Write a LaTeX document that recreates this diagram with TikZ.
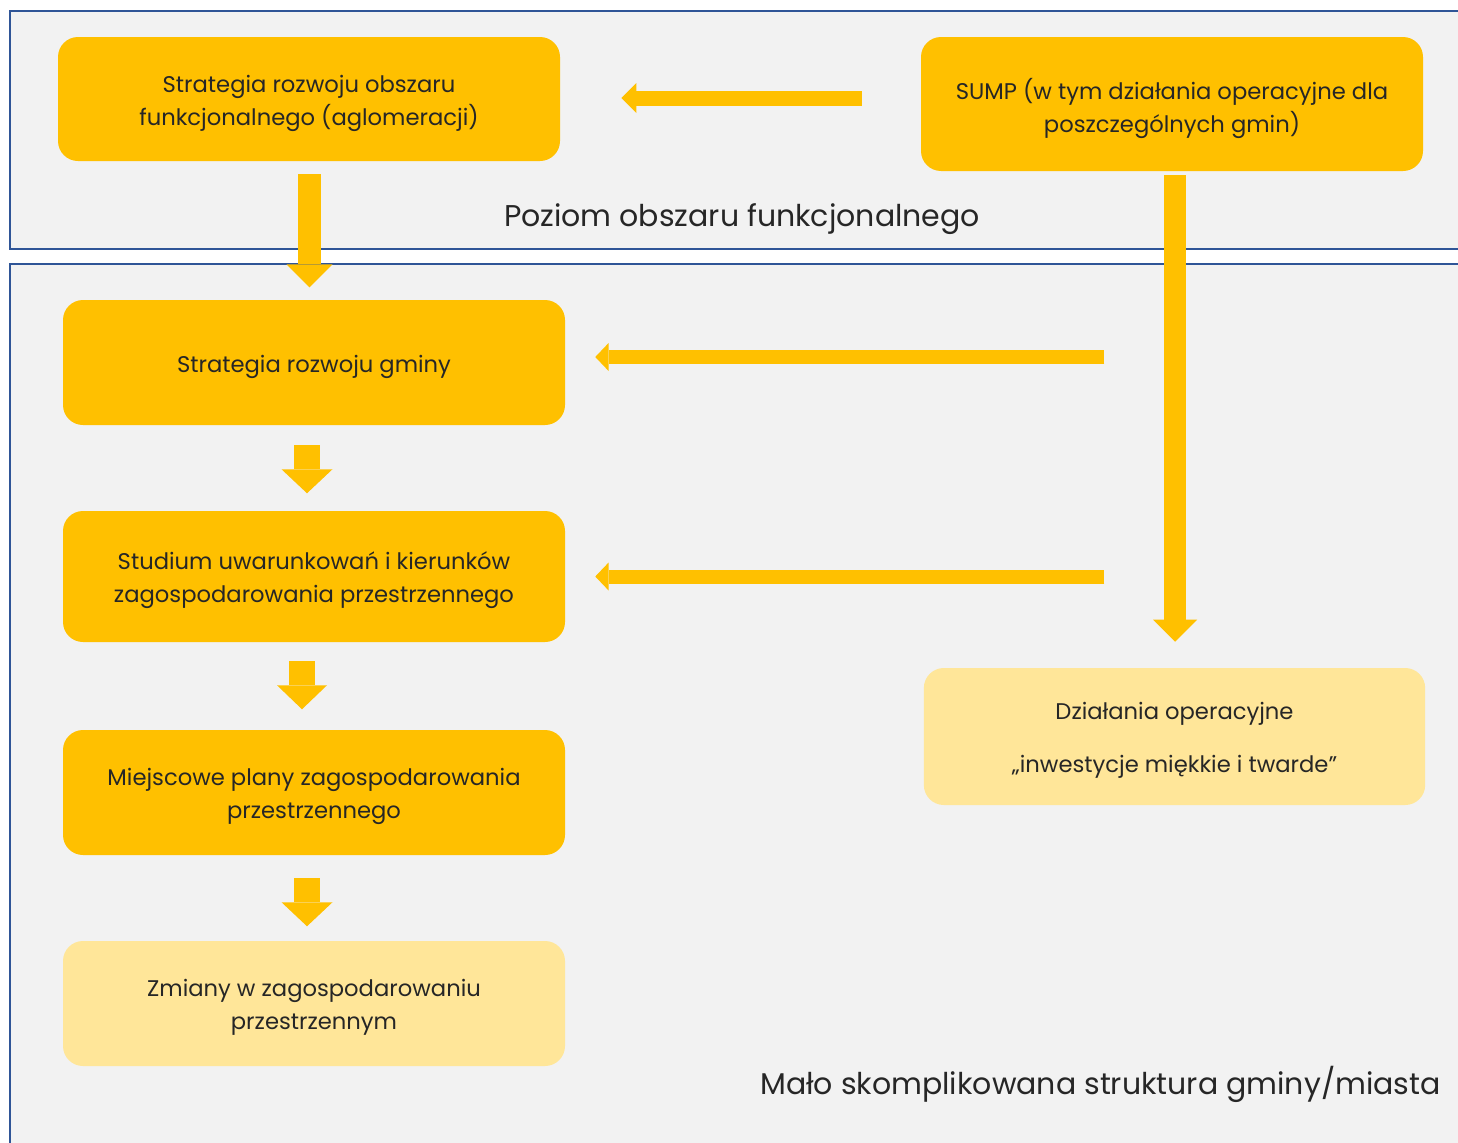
\documentclass[tikz,border=0pt]{standalone}
\usepackage{fontspec}
\setmainfont{Poppins}
\usetikzlibrary{arrows.meta,calc}
\definecolor{frameblue}{RGB}{47,85,151}
\definecolor{framefill}{RGB}{242,242,242}
\definecolor{orangebox}{RGB}{255,192,0}
\definecolor{lightbox}{RGB}{255,230,153}
\newcommand{\boxtext}[1]{\raisebox{-3pt}[\height][\depth]{\parbox{376pt}{\centering #1}}}
\tikzset{
  frame/.style={draw=frameblue, line width=1.6pt, fill=framefill},
  box/.style={fill=orangebox, rounded corners=15pt, minimum width=376.5pt, align=center,
    font=\fontsize{17pt}{24.75pt}\selectfont, text=black!85, inner sep=0pt},
  lbox/.style={box, fill=lightbox},
  biglabel/.style={font=\fontsize{22.5pt}{27pt}\selectfont, text=black!85, inner sep=0pt},
  blk/.style args={#1/#2/#3}{draw=orangebox, line width=#1, line cap=butt,
    -{Triangle[length=#2, width=#3, line width=0pt]}},
}
\begin{document}
\begin{tikzpicture}[x=0.75pt, y=-0.75pt]
\useasboundingbox (0,0) rectangle (1458,1142);
\clip (0,0) rectangle (1458,1142);
% frames
\draw[frame] (10,11) rectangle (1475,249);
\draw[frame] (10,264) rectangle (1475,1160);
% boxes
\node[box, minimum height=93pt] (A) at (309,99) {\boxtext{Strategia rozwoju obszaru\\funkcjonalnego (aglomeracji)}};
\node[box, minimum height=100.5pt] (B) at (1172,104) {\boxtext{SUMP (w tym działania operacyjne dla\\poszczególnych gmin)}};
\node[box, minimum height=93.75pt] (C) at (314,362.5) {\boxtext{Strategia rozwoju gminy}};
\node[box, minimum height=98.25pt] (D) at (314,576.5) {\boxtext{Studium uwarunkowań i kierunków\\zagospodarowania przestrzennego}};
\node[box, minimum height=93.75pt] (E) at (314,792.5) {\boxtext{Miejscowe plany zagospodarowania\\przestrzennego}};
\node[lbox, minimum height=93.75pt] (F) at (314,1003.5) {\boxtext{Zmiany w zagospodarowaniu\\przestrzennym}};
\node[lbox, minimum height=102.75pt, minimum width=375.75pt] (G) at (1174.5,736.5) {\boxtext{Działania operacyjne\\[15pt]„inwestycje miękkie i twarde”}};
% labels
\node[biglabel] (L1) at (742,219) {Poziom obszaru funkcjonalnego};
\node[biglabel, anchor=east] (L2) at (1441,1084) {Mało skomplikowana struktura gminy/miasta};
% arrows
\coordinate (b1s) at ($(B.west)+(-59,-6)$);
\coordinate (b1e) at ($(A.east)+(61,-1)$);
\draw[blk=11.25pt/11.25pt/22.5pt] (b1s) -- (b1e);
\coordinate (a1s) at ($(A.south)+(0.5,13)$);
\coordinate (a1e) at ($(A.south)+(0.5,126)$);
\draw[blk=17.25pt/17.25pt/34.5pt] (a1s) -- (a1e);
\coordinate (s1s) at ($(B.south)+(3,4)$);
\coordinate (s1e) at ($(G.north)+(0.5,-26)$);
\draw[blk=16.5pt/16.5pt/33pt] (s1s) -- (s1e);
\coordinate (h1s) at ($(C.east)+(539,-5.5)$);
\coordinate (h1e) at ($(C.east)+(30,-5.5)$);
\draw[blk=10.5pt/10pt/21pt] (h1s) -- (h1e);
\coordinate (h2s) at ($(D.east)+(539,0)$);
\coordinate (h2e) at ($(D.east)+(30,0)$);
\draw[blk=10.5pt/10pt/21pt] (h2s) -- (h2e);
\draw[blk=19.5pt/18pt/38.25pt] ($(C.south)+(-7,20)$) -- ($(C.south)+(-7,68)$);
\draw[blk=19.5pt/18pt/37.5pt] ($(D.south)+(-12,19)$) -- ($(D.south)+(-12,67)$);
\draw[blk=19.5pt/18pt/38.25pt] ($(E.south)+(-7,23)$) -- ($(E.south)+(-7,71)$);
\end{tikzpicture}
\end{document}
